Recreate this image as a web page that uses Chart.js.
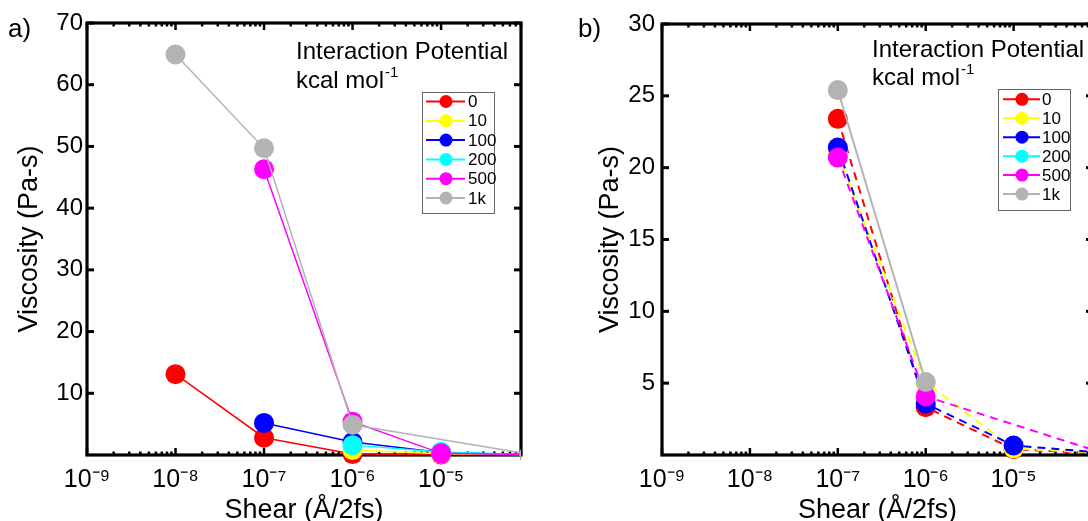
<!DOCTYPE html>
<html><head><meta charset="utf-8">
<script src="https://cdn.jsdelivr.net/npm/chart.js@4.4.0/dist/chart.umd.min.js"></script>
<style>
html,body{margin:0;padding:0;width:1088px;height:521px;overflow:hidden;background:#fff;}
#wa{position:absolute;left:0;top:0;width:544px;height:521px;}
#wb{position:absolute;left:544px;top:0;width:560px;height:521px;}
</style></head><body>
<div id="wa"><canvas id="ca"></canvas></div>
<div id="wb"><canvas id="cb"></canvas></div>
<script>
// ---- data ----
const shear = [1e-8, 1e-7, 1e-6, 1e-5, 1e-4];
const potentials = ['0', '10', '100', '200', '500', '1k'];
const colors = ['#ff0000', '#ffff00', '#0000ff', '#00ffff', '#ff00ff', '#b3b3b3'];

// panel a) viscosity (Pa-s)
const a_0   = [13.1, 2.8, 0.15, 0.1, 0.05];
const a_10  = [null, null, 0.8, 0.2, 0.05];
const a_100 = [null, 5.2, 2.1, 0.4, 0.05];
const a_200 = [null, null, 1.6, 0.5, 0.05];
const a_500 = [null, 46.3, 5.4, 0.27, 0.05];
const a_1k  = [64.9, 49.7, 4.9, null, 0.15];

// panel b) viscosity (Pa-s)
const b_0   = [null, 23.4, 3.33, 0.4, 0.1];
const b_10  = [null, 21.0, 5.05, 0.45, 0.15];
const b_100 = [null, 21.4, 3.57, 0.66, 0.17];
const b_200 = [null, null, null, null, null];
const b_500 = [null, 20.7, 4.08, null, 0.17];
const b_1k  = [null, 25.4, 5.08, null, null];

const xTickExponents = [-9, -8, -7, -6, -5];
const yTicksA = [10, 20, 30, 40, 50, 60, 70];
const yTicksB = [5, 10, 15, 20, 25, 30];

// ---- helpers ----
Chart.defaults.font.family = '"Liberation Sans", Arial, sans-serif';
Chart.defaults.color = '#000';
const SUP = {'-':'\u207B','0':'\u2070','1':'\u00B9','2':'\u00B2','3':'\u00B3','4':'\u2074','5':'\u2075','6':'\u2076','7':'\u2077','8':'\u2078','9':'\u2079'};
const expLabel = e => '10' + String(e).split('').map(c => SUP[c]).join('');

function pts(arr) {
  return shear.map((x, i) => ({x, y: arr[i]})).filter(p => p.y !== null);
}
function makeDatasets(series, dashed) {
  return series.map((arr, i) => ({
    label: potentials[i],
    data: pts(arr),
    borderColor: colors[i],
    backgroundColor: colors[i],
    pointBackgroundColor: colors[i],
    pointBorderColor: colors[i],
    pointRadius: 10,
    pointBorderWidth: 0,
    pointHoverRadius: 10,
    borderWidth: dashed ? 2 : 1.5,
    borderDash: (dashed && i !== 5) ? [8, 6] : [],
    tension: 0,
    order: 5 - i,
    clip: {left: 12, top: 12, right: 0, bottom: 12}
  }));
}

const frameTicks = {
  id: 'frameTicks',
  beforeDatasetsDraw(chart) {
    const {ctx, chartArea: ca, scales: {x, y}} = chart;
    ctx.save();
    ctx.strokeStyle = '#000';
    const seg = (x1, y1, x2, y2) => { ctx.beginPath(); ctx.moveTo(x1, y1); ctx.lineTo(x2, y2); ctx.stroke(); };
    ctx.lineWidth = 2.5;
    for (let e = -9; e <= -5; e++) {
      for (let m = 1; m <= 9; m++) {
        const v = m * Math.pow(10, e);
        if (v < x.min * 0.999 || v > x.max) continue;
        const px = x.getPixelForValue(v);
        const len = m === 1 ? 7 : 3.5;
        seg(px, ca.bottom, px, ca.bottom - len);
        seg(px, ca.top, px, ca.top + len);
      }
    }
    ctx.lineWidth = 3;
    for (const t of y.ticks) {
      const py = y.getPixelForValue(t.value);
      seg(ca.left, py, ca.left + 7, py);
      seg(ca.right, py, ca.right - 7, py);
    }
    ctx.lineWidth = 3.2;
    ctx.strokeRect(ca.left, ca.top, ca.right - ca.left, ca.bottom - ca.top);
    ctx.restore();
  }
};

function annotPlugin(c) {
  return {
    id: 'annot',
    afterDraw(chart) {
      const ctx = chart.ctx;
      ctx.save();
      ctx.fillStyle = '#000';
      ctx.textAlign = 'left';
      ctx.textBaseline = 'alphabetic';
      ctx.font = '26px "Liberation Sans", Arial, sans-serif';
      ctx.fillText(c.panel, c.panelX, 37);
      ctx.font = '24px "Liberation Sans", Arial, sans-serif';
      ctx.fillText('Interaction Potential', c.tx, c.ty1);
      ctx.fillText('kcal mol', c.tx, c.ty2);
      const w = ctx.measureText('kcal mol').width;
      ctx.font = '15px "Liberation Sans", Arial, sans-serif';
      ctx.fillText('-1', c.tx + w + 1, c.ty2 - 11);
      // legend
      const L = c.legend;
      ctx.fillStyle = '#fff';
      ctx.fillRect(L.x, L.y, L.w, L.h);
      ctx.strokeStyle = '#666';
      ctx.lineWidth = 1;
      ctx.strokeRect(L.x + 0.5, L.y + 0.5, L.w, L.h);
      ctx.font = '17px "Liberation Sans", Arial, sans-serif';
      ctx.textBaseline = 'middle';
      chart.data.datasets.forEach((ds, i) => {
        const yy = L.y0 + L.dy * i;
        ctx.strokeStyle = ds.borderColor;
        ctx.lineWidth = 2;
        ctx.beginPath(); ctx.moveTo(L.lx1, yy); ctx.lineTo(L.lx2, yy); ctx.stroke();
        ctx.fillStyle = ds.pointBackgroundColor;
        ctx.beginPath(); ctx.arc(L.mx, yy, 6.5, 0, Math.PI * 2); ctx.fill();
        ctx.fillStyle = '#000';
        ctx.fillText(ds.label, L.tx, yy + 1);
      });
      ctx.restore();
    }
  };
}

function makeChart(id, series, dashed, o) {
  return new Chart(document.getElementById(id), {
    type: 'line',
    data: {datasets: makeDatasets(series, dashed)},
    options: {
      responsive: true,
      maintainAspectRatio: false,
      animation: false,
      events: [],
      layout: {padding: {left: 0, right: o.padRight, top: o.padTop, bottom: 0}},
      plugins: {legend: {display: false}, tooltip: {enabled: false}},
      scales: {
        x: {
          type: 'logarithmic',
          min: 1e-9,
          max: 8e-5,
          afterBuildTicks: s => { s.ticks = xTickExponents.map(e => ({value: Math.pow(10, e)})); },
          afterFit: s => { s.height = 66; },
          grid: {display: false, drawTicks: false},
          border: {display: false},
          ticks: {
            autoSkip: false, maxRotation: 0, minRotation: 0, padding: 10,
            font: {size: 25},
            callback: v => expLabel(Math.round(Math.log10(v)))
          },
          title: {display: true, text: 'Shear (\u00C5/2fs)', font: {size: 27, lineHeight: 0.75}, padding: {top: 0, bottom: 0}}
        },
        y: {
          type: 'linear',
          min: 0,
          max: o.ymax,
          afterBuildTicks: s => { s.ticks = o.yticks.map(v => ({value: v})); },
          afterFit: s => { s.width = o.yWidth; },
          grid: {display: false, drawTicks: false},
          border: {display: false},
          ticks: {padding: o.yPad, font: {size: 24}},
          title: {display: true, text: 'Viscosity (Pa-s)', font: {size: 27, lineHeight: 0.75}, padding: {top: o.titlePad, bottom: 0}}
        }
      }
    },
    plugins: [frameTicks, annotPlugin(o.annot)]
  });
}

makeChart('ca', [a_0, a_10, a_100, a_200, a_500, a_1k], false, {
  padRight: 23, padTop: 23, ymax: 70, yticks: yTicksA, yWidth: 87, yPad: 4, titlePad: 19,
  annot: {panel: 'a)', panelX: 8, tx: 296, ty1: 59, ty2: 88,
    legend: {x: 422, y: 92, w: 72, h: 121, y0: 101.5, dy: 19.3, lx1: 426, lx2: 465, mx: 446, tx: 468}}
});
makeChart('cb', [b_0, b_10, b_100, b_200, b_500, b_1k], true, {
  padRight: 11, padTop: 24, ymax: 30, yticks: yTicksB, yWidth: 118, yPad: 7, titlePad: 56,
  annot: {panel: 'b)', panelX: 34, tx: 328, ty1: 57, ty2: 85,
    legend: {x: 454, y: 89, w: 72, h: 121, y0: 99.3, dy: 18.95, lx1: 459, lx2: 496, mx: 478, tx: 498}}
});
</script>
</body></html>
